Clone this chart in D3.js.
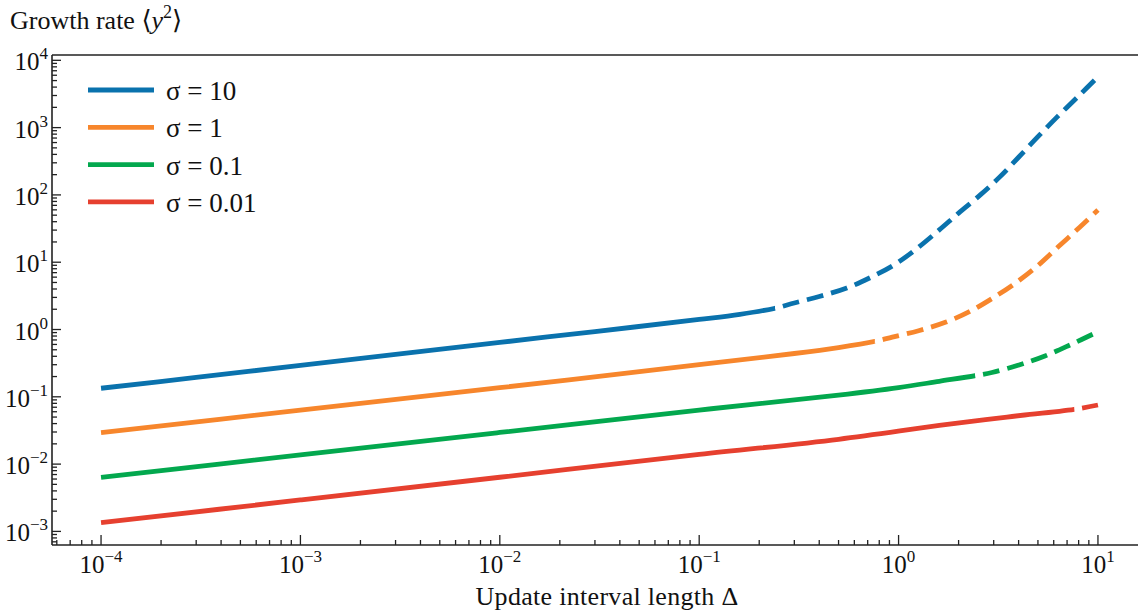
<!DOCTYPE html>
<html>
<head>
<meta charset="utf-8">
<script src="https://cdn.jsdelivr.net/npm/d3@7"></script>
<style>
  body { margin: 0; background: #fff; }
  svg { display: block; font-family: "Liberation Serif", "DejaVu Serif", serif; }
</style>
</head>
<body>
<div id="chart"></div>
<script>
// data
var seriesLabels = ["σ = 10", "σ = 1", "σ = 0.1", "σ = 0.01"];

var sigma10Delta = [1e-4, 3e-4, 1e-3, 3e-3, 1e-2, 3e-2, 0.1, 0.16, 0.24, 0.3, 0.4, 0.55, 0.72, 0.95, 1.23, 1.6, 2.0, 2.57, 3.2, 4, 5, 6.3, 8, 10];
var sigma10Growth = [0.134, 0.194, 0.293, 0.426, 0.643, 0.933, 1.41, 1.68, 2.07, 2.48, 3.09, 4.14, 5.89, 9.12, 15.8, 30.2, 53.7, 100, 182, 363, 733, 1479, 2951, 5702];

var sigma1Delta = [1e-4, 1e-3, 1e-2, 0.1, 0.3, 0.5, 0.76, 0.93, 1.26, 1.73, 2.28, 3.0, 3.9, 4.95, 6.3, 8.1, 10];
var sigma1Growth = [0.0293, 0.0634, 0.1365, 0.300, 0.44, 0.54, 0.665, 0.77, 0.96, 1.29, 1.86, 2.99, 5.01, 8.71, 16.8, 33.1, 59.7];

var sigma01Delta = [1e-4, 1e-3, 1e-2, 0.1, 0.5, 1.0, 1.6, 2.42, 2.94, 4.02, 5.42, 7.24, 10];
var sigma01Growth = [0.00637, 0.0137, 0.0295, 0.0635, 0.106, 0.137, 0.170, 0.206, 0.230, 0.297, 0.404, 0.589, 0.927];

var sigma001Delta = [1e-4, 1e-3, 1e-2, 0.1, 0.5, 1.6, 3.5, 7.6, 10];
var sigma001Growth = [0.001346, 0.00293, 0.00638, 0.0139, 0.0234, 0.0375, 0.0501, 0.0652, 0.0755];

// where each curve switches from solid to dashed
var dashFrom = [0.24, 0.76, 2.42, 7.6];

var xTickExps = [-4, -3, -2, -1, 0, 1];
var yTickExps = [-3, -2, -1, 0, 1, 2, 3, 4];

var colors = ["#0a72ad", "#f7862c", "#03a84e", "#e6402f"];

(function () {
    var width = 1138, height = 614;
    var plotLeft = 52, plotBottom = 545, plotTop = 55;
    var dashOn = 17, dashOff = 8;

    var svg = d3.select('#chart').append('svg')
        .attr('width', width)
        .attr('height', height);

    var x = d3.scaleLog()
        .domain([Math.pow(10, -4.25), Math.pow(10, 1.25)])
        .range([51.2, 1147.8]);

    var y = d3.scaleLog()
        .domain([Math.pow(10, -3.202), Math.pow(10, 4.079)])
        .range([plotBottom, plotTop]);

    var allDelta = [sigma10Delta, sigma1Delta, sigma01Delta, sigma001Delta];
    var allGrowth = [sigma10Growth, sigma1Growth, sigma01Growth, sigma001Growth];

    var line = d3.line()
        .x(function (d) { return x(d[0]); })
        .y(function (d) { return y(d[1]); })
        .curve(d3.curveCatmullRom.alpha(0.5));

    var defs = svg.append('defs');

    // curves: one smooth path each, solid part and dashed part split by clip
    allDelta.forEach(function (deltas, i) {
        var pts = deltas.map(function (d, j) { return [d, allGrowth[i][j]]; });
        var xj = x(dashFrom[i]);

        defs.append('clipPath').attr('id', 'solid' + i)
            .append('rect').attr('x', 0).attr('y', 0).attr('width', xj).attr('height', height);
        defs.append('clipPath').attr('id', 'dash' + i)
            .append('rect').attr('x', xj).attr('y', 0).attr('width', width - xj).attr('height', height);

        svg.append('path').datum(pts)
            .attr('d', line)
            .attr('fill', 'none')
            .attr('stroke', colors[i])
            .attr('stroke-width', 4.8)
            .attr('clip-path', 'url(#solid' + i + ')');

        var dashed = svg.append('path').datum(pts)
            .attr('d', line)
            .attr('fill', 'none')
            .attr('stroke', colors[i])
            .attr('stroke-width', 4.8)
            .attr('clip-path', 'url(#dash' + i + ')');

        // length along the curve up to the junction, so the pattern starts with a gap there
        var node = dashed.node();
        var lo = 0, hi = node.getTotalLength();
        for (var it = 0; it < 40; it++) {
            var mid = (lo + hi) / 2;
            if (node.getPointAtLength(mid).x < xj) lo = mid; else hi = mid;
        }
        var period = dashOn + dashOff;
        var offset = ((dashOn - lo) % period + period) % period;
        dashed.attr('stroke-dasharray', dashOn + ',' + dashOff)
            .attr('stroke-dashoffset', offset);
    });

    // minor tick positions
    var minorX = [], minorY = [];
    for (var e = -5; e <= 1; e++) {
        for (var m = 2; m <= 9; m++) {
            var v = m * Math.pow(10, e);
            if (v > x.domain()[0] && v < x.domain()[1]) minorX.push(v);
        }
    }
    for (var e2 = -4; e2 <= 4; e2++) {
        for (var m2 = 2; m2 <= 9; m2++) {
            var v2 = m2 * Math.pow(10, e2);
            if (v2 > y.domain()[0] && v2 < y.domain()[1]) minorY.push(v2);
        }
    }

    var axisColor = '#222';
    var ticks = svg.append('g').attr('stroke', axisColor).attr('stroke-width', 1.3);

    // x ticks (inward)
    xTickExps.forEach(function (k) {
        var px = x(Math.pow(10, k));
        ticks.append('line').attr('x1', px).attr('x2', px).attr('y1', plotBottom).attr('y2', plotBottom - 10);
    });
    minorX.forEach(function (v) {
        var px = x(v);
        ticks.append('line').attr('x1', px).attr('x2', px).attr('y1', plotBottom).attr('y2', plotBottom - 5);
    });
    // y ticks (inward)
    yTickExps.forEach(function (k) {
        var py = y(Math.pow(10, k));
        ticks.append('line').attr('x1', plotLeft).attr('x2', plotLeft + 9).attr('y1', py).attr('y2', py);
    });
    minorY.forEach(function (v) {
        var py = y(v);
        ticks.append('line').attr('x1', plotLeft).attr('x2', plotLeft + 5).attr('y1', py).attr('y2', py);
    });

    // spines
    svg.append('line').attr('x1', plotLeft).attr('x2', width).attr('y1', plotBottom).attr('y2', plotBottom)
        .attr('stroke', axisColor).attr('stroke-width', 1.6);
    svg.append('line').attr('x1', plotLeft).attr('x2', width).attr('y1', plotTop).attr('y2', plotTop)
        .attr('stroke', axisColor).attr('stroke-width', 1.6);
    svg.append('line').attr('x1', plotLeft).attr('x2', plotLeft).attr('y1', plotTop).attr('y2', plotBottom)
        .attr('stroke', axisColor).attr('stroke-width', 1.6);

    function expText(k) {
        return k < 0 ? '\u2212' + Math.abs(k) : String(k);
    }

    // x tick labels
    xTickExps.forEach(function (k) {
        var t = svg.append('text')
            .attr('x', x(Math.pow(10, k)))
            .attr('y', 573)
            .attr('text-anchor', 'middle')
            .attr('font-size', 25)
            .attr('fill', '#111');
        t.append('tspan').text('10');
        t.append('tspan').attr('dy', -11).attr('font-size', 17).text(expText(k));
    });

    // y tick labels
    yTickExps.forEach(function (k) {
        var t = svg.append('text')
            .attr('x', 48)
            .attr('y', y(Math.pow(10, k)) + 10)
            .attr('text-anchor', 'end')
            .attr('font-size', 25)
            .attr('fill', '#111');
        t.append('tspan').text('10');
        t.append('tspan').attr('dy', -11).attr('font-size', 17).text(expText(k));
    });

    // axis titles
    var title = svg.append('text')
        .attr('x', 10).attr('y', 29)
        .attr('font-size', 26)
        .attr('fill', '#111');
    title.append('tspan').text('Growth rate \u27E8');
    title.append('tspan').attr('font-style', 'italic').text('y');
    title.append('tspan').attr('dy', -11).attr('font-size', 18).text('2');
    title.append('tspan').attr('dy', 11).text('\u27E9');

    svg.append('text')
        .attr('x', 607).attr('y', 605)
        .attr('text-anchor', 'middle')
        .attr('font-size', 26)
        .attr('letter-spacing', 0.3)
        .attr('fill', '#111')
        .text('Update interval length \u0394');

    // legend
    var legend = svg.append('g');
    seriesLabels.forEach(function (lab, i) {
        var ly = 90 + i * 37.3;
        legend.append('line')
            .attr('x1', 88).attr('x2', 154)
            .attr('y1', ly).attr('y2', ly)
            .attr('stroke', colors[i]).attr('stroke-width', 4.8);
        legend.append('text')
            .attr('x', 166).attr('y', ly + 10)
            .attr('font-size', 27)
            .attr('fill', '#111')
            .text(lab);
    });
})();
</script>
</body>
</html>
